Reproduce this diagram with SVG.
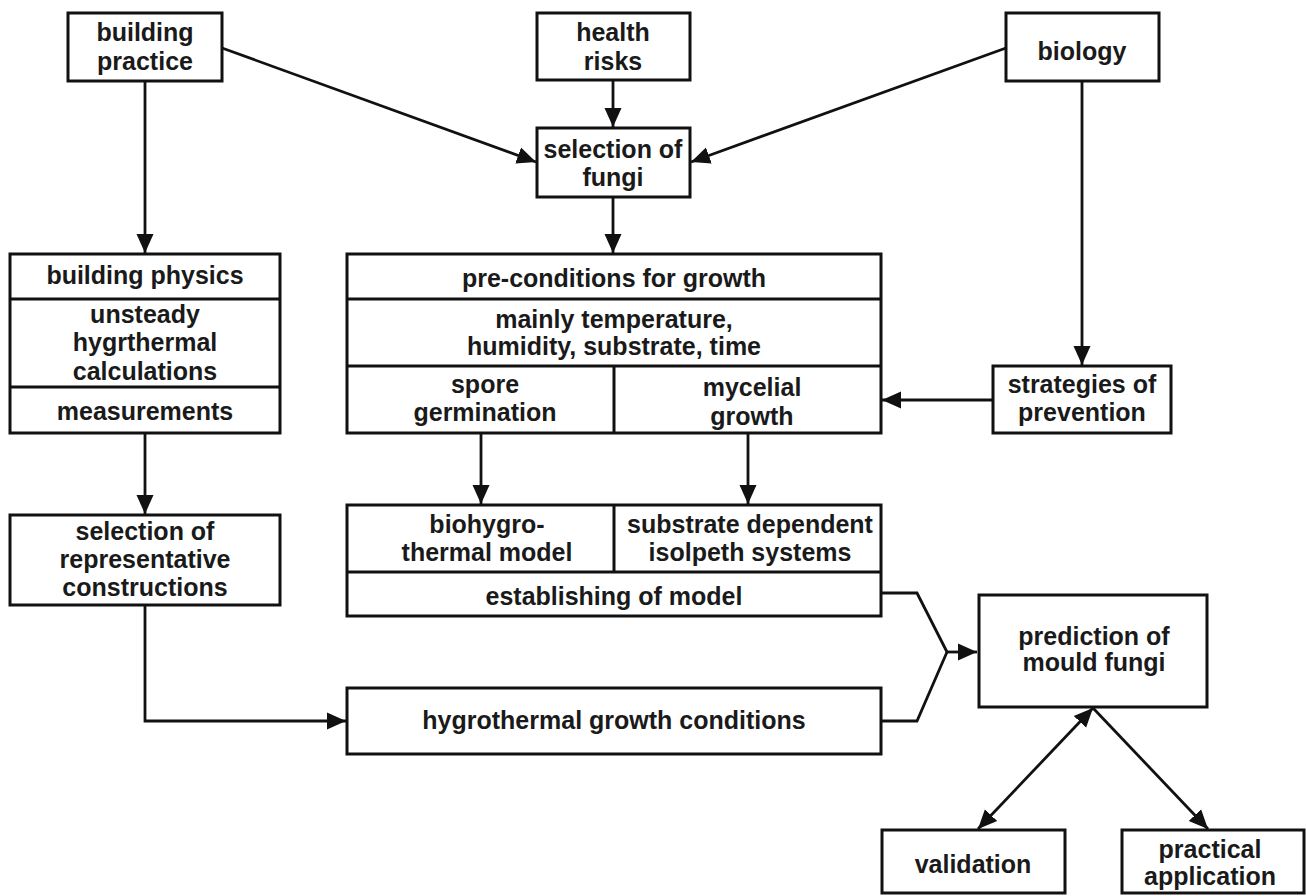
<svg xmlns="http://www.w3.org/2000/svg" width="1306" height="896" viewBox="0 0 1306 896">
<defs>
<marker id="ah" markerUnits="userSpaceOnUse" markerWidth="20" markerHeight="18" refX="19" refY="9" orient="auto-start-reverse">
<path d="M0,0.5 L19,9 L0,17.5 z" fill="#111"/>
</marker>
<style>
.box{fill:#fff;stroke:#111;stroke-width:3}
.div{stroke:#111;stroke-width:3;fill:none}
.t{font-family:"Liberation Sans",Arial,sans-serif;font-weight:bold;font-size:25px;fill:#1a1a1a;text-anchor:middle}
.c{stroke:#111;stroke-width:2.8;fill:none}
.a{marker-end:url(#ah)}
</style>
</defs>
<rect width="1306" height="896" fill="#fff"/>
<g id="connectors">
<line class="c a" x1="145" y1="81" x2="145" y2="253"/>
<line class="c a" x1="222" y1="48" x2="536" y2="162"/>
<line class="c a" x1="613" y1="80" x2="613" y2="127"/>
<line class="c a" x1="1006" y1="48" x2="691" y2="162"/>
<line class="c a" x1="613" y1="197" x2="613" y2="253"/>
<line class="c a" x1="1082" y1="81" x2="1082" y2="365"/>
<line class="c a" x1="993" y1="400" x2="882" y2="400"/>
<line class="c a" x1="145" y1="433" x2="145" y2="514"/>
<line class="c a" x1="481" y1="433" x2="481" y2="504"/>
<line class="c a" x1="748" y1="433" x2="748" y2="504"/>
<polyline class="c a" points="145,605 145,721 346,721"/>
<polyline class="c" points="881,593 917,593 947,652"/>
<polyline class="c" points="881,721 917,721 947,652"/>
<line class="c a" x1="947" y1="652" x2="977" y2="652"/>
<line class="c a" style="marker-start:url(#ah)" x1="978" y1="829" x2="1093" y2="708"/>
<line class="c a" x1="1093" y1="708" x2="1208" y2="829"/>
</g>
<g id="building-practice">
<rect class="box" x="68" y="13" width="154" height="68"/>
<text class="t" x="145" y="41">building</text>
<text class="t" x="145" y="70">practice</text>
</g>
<g id="health-risks">
<rect class="box" x="537" y="13" width="153" height="67"/>
<text class="t" x="613" y="41">health</text>
<text class="t" x="613" y="70">risks</text>
</g>
<g id="biology">
<rect class="box" x="1006" y="13" width="153" height="68"/>
<text class="t" x="1082" y="60">biology</text>
</g>
<g id="selection-of-fungi">
<rect class="box" x="537" y="128" width="153" height="69"/>
<text class="t" x="613" y="158">selection of</text>
<text class="t" x="613" y="186">fungi</text>
</g>
<g id="building-physics">
<rect class="box" x="10" y="254" width="270" height="179"/>
<line class="div" x1="10" y1="299" x2="280" y2="299"/>
<line class="div" x1="10" y1="387" x2="280" y2="387"/>
<text class="t" x="145" y="284">building physics</text>
<text class="t" x="145" y="323">unsteady</text>
<text class="t" x="145" y="351">hygrthermal</text>
<text class="t" x="145" y="380">calculations</text>
<text class="t" x="145" y="420">measurements</text>
</g>
<g id="pre-conditions">
<rect class="box" x="347" y="254" width="534" height="179"/>
<line class="div" x1="347" y1="299" x2="881" y2="299"/>
<line class="div" x1="347" y1="366" x2="881" y2="366"/>
<line class="div" x1="614" y1="366" x2="614" y2="433"/>
<text class="t" x="614" y="287">pre-conditions for growth</text>
<text class="t" x="614" y="328">mainly temperature,</text>
<text class="t" x="614" y="355">humidity, substrate, time</text>
<text class="t" x="485" y="393">spore</text>
<text class="t" x="485" y="421">germination</text>
<text class="t" x="752" y="396">mycelial</text>
<text class="t" x="752" y="425">growth</text>
</g>
<g id="strategies-of-prevention">
<rect class="box" x="993" y="366" width="178" height="67"/>
<text class="t" x="1082" y="393">strategies of</text>
<text class="t" x="1082" y="421">prevention</text>
</g>
<g id="selection-of-representative-constructions">
<rect class="box" x="10" y="515" width="270" height="90"/>
<text class="t" x="145" y="540">selection of</text>
<text class="t" x="145" y="568">representative</text>
<text class="t" x="145" y="596">constructions</text>
</g>
<g id="model">
<rect class="box" x="347" y="505" width="534" height="111"/>
<line class="div" x1="347" y1="572" x2="881" y2="572"/>
<line class="div" x1="614" y1="505" x2="614" y2="572"/>
<text class="t" x="487" y="533">biohygro-</text>
<text class="t" x="487" y="561">thermal model</text>
<text class="t" x="750" y="533">substrate dependent</text>
<text class="t" x="750" y="561">isolpeth systems</text>
<text class="t" x="614" y="605">establishing of model</text>
</g>
<g id="hygrothermal-growth-conditions">
<rect class="box" x="347" y="688" width="534" height="66"/>
<text class="t" x="614" y="729">hygrothermal growth conditions</text>
</g>
<g id="prediction-of-mould-fungi">
<rect class="box" x="979" y="595" width="228" height="112"/>
<text class="t" x="1094" y="645">prediction of</text>
<text class="t" x="1094" y="671">mould fungi</text>
</g>
<g id="validation">
<rect class="box" x="882" y="830" width="183" height="63"/>
<text class="t" x="973" y="873">validation</text>
</g>
<g id="practical-application">
<rect class="box" x="1122" y="830" width="182" height="63"/>
<text class="t" x="1210" y="858">practical</text>
<text class="t" x="1210" y="885">application</text>
</g>
</svg>
